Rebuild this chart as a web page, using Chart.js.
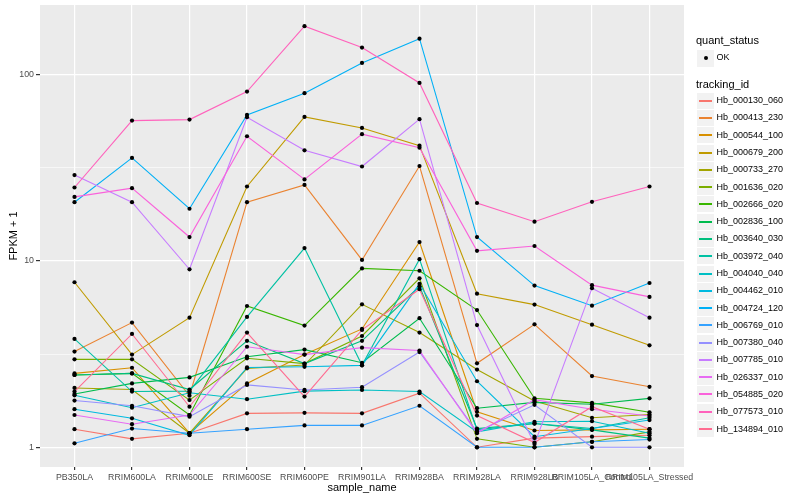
<!DOCTYPE html>
<html>
<head>
<meta charset="utf-8">
<script src="https://cdn.jsdelivr.net/npm/chart.js@4.4.1/dist/chart.umd.min.js"></script>
<style>
  body { margin: 0; background: #fff; font-family: "Liberation Sans", Arial, sans-serif; }
  #wrap { position: relative; width: 800px; height: 500px; }
  #legend { position: absolute; left: 0; top: 0; width: 800px; height: 500px; pointer-events: none; }
  .lg-title { position: absolute; font-size: 11px; color: #000; line-height: 13px; }
  .lg-key { position: absolute; width: 17px; height: 16px; background: #F2F2F2; }
  .lg-line { position: absolute; left: 2px; width: 13px; height: 2px; top: 7px; }
  .lg-dot { position: absolute; left: 6.5px; top: 6.5px; width: 4px; height: 4px; border-radius: 50%; background: #000; }
  .lg-text { position: absolute; font-size: 9px; color: #000; line-height: 11px; white-space: nowrap; }
</style>
</head>
<body>
<div id="wrap">
  <canvas id="chart" width="800" height="500"></canvas>
  <div id="legend"></div>
</div>
<script>
const categories = ["PB350LA", "RRIM600LA", "RRIM600LE", "RRIM600SE", "RRIM600PE", "RRIM901LA",
  "RRIM928BA", "RRIM928LA", "RRIM928LB", "RRIM105LA_Control", "RRIM105LA_Stressed"];

const trackingIds = ["Hb_000130_060", "Hb_000413_230", "Hb_000544_100", "Hb_000679_200", "Hb_000733_270",
  "Hb_001636_020", "Hb_002666_020", "Hb_002836_100", "Hb_003640_030", "Hb_003972_040",
  "Hb_004040_040", "Hb_004462_010", "Hb_004724_120", "Hb_006769_010", "Hb_007380_040",
  "Hb_007785_010", "Hb_026337_010", "Hb_054885_020", "Hb_077573_010", "Hb_134894_010"];

const seriesColors = ["#F8766D", "#EA8331", "#D89000", "#C09B00", "#A3A500", "#7CAE00", "#39B600",
  "#00BB4E", "#00BF7D", "#00C1A3", "#00BFC4", "#00BAE0", "#00B0F6", "#35A2FF", "#9590FF",
  "#C77CFF", "#E76BF3", "#FA62DB", "#FF62BC", "#FF6C91"];

// FPKM + 1, one value per sample
const hb000130 = [1.25, 1.11, 1.19, 1.52, 1.53, 1.52, 1.95, 1.00, 1.12, 1.14, 1.16];
const hb000413 = [3.26, 4.66, 1.89, 20.6, 25.5, 10.1, 32.2, 2.82, 4.56, 2.41, 2.11];
const hb000544 = [2.49, 2.67, 1.19, 2.20, 3.14, 4.31, 12.6, 1.55, 1.23, 1.24, 1.25];
const hb000679 = [7.67, 3.14, 4.95, 25.0, 59.0, 51.5, 41.4, 6.66, 5.82, 4.54, 3.52];
const hb000733 = [2.08, 2.04, 1.19, 2.65, 2.76, 5.84, 4.12, 2.61, 1.77, 1.44, 1.50];
const hb001636 = [2.96, 2.96, 1.79, 3.00, 2.81, 3.95, 8.05, 1.11, 1.00, 1.07, 1.21];
const hb002666 = [2.44, 2.49, 1.49, 5.72, 4.49, 9.10, 8.84, 5.44, 1.83, 1.73, 1.54];
const hb002836 = [1.93, 2.20, 2.37, 3.06, 3.34, 2.84, 4.92, 1.62, 1.74, 1.70, 1.83];
const hb003640 = [2.44, 2.49, 2.04, 3.72, 2.81, 3.72, 7.30, 1.26, 1.34, 1.24, 1.12];
const hb003972 = [3.81, 1.99, 2.00, 5.00, 11.7, 2.75, 10.2, 1.24, 1.34, 1.26, 1.44];
const hb004040 = [1.90, 1.63, 1.96, 1.81, 2.00, 2.03, 1.99, 1.21, 1.37, 1.38, 1.19];
const hb004462 = [1.60, 1.43, 1.16, 2.68, 2.70, 2.75, 7.52, 2.26, 1.14, 1.26, 1.40];
const hb004724 = [20.6, 35.6, 19.0, 60.5, 79.1, 115, 155, 13.4, 7.36, 5.74, 7.60];
const hb006769 = [1.05, 1.26, 1.19, 1.25, 1.31, 1.31, 1.67, 1.00, 1.00, 1.07, 1.10];
const hb007380 = [1.78, 1.67, 1.46, 2.16, 2.03, 2.10, 3.24, 1.21, 1.69, 1.00, 1.00];
const hb007785 = [28.8, 20.6, 9.00, 58.8, 39.1, 32.0, 57.4, 4.52, 1.04, 7.13, 4.95];
const hb026337 = [1.49, 1.33, 1.49, 3.46, 3.14, 3.42, 3.30, 1.19, 1.80, 1.60, 1.47];
const hb054885 = [22.0, 24.5, 13.4, 46.5, 27.3, 47.7, 40.4, 11.3, 12.0, 7.40, 6.40];
const hb077573 = [24.7, 56.4, 57.1, 80.7, 181, 139, 89.8, 20.4, 16.2, 20.7, 25.0];
const hb134894 = [1.99, 4.05, 1.65, 4.12, 1.87, 4.26, 7.04, 1.48, 1.06, 1.65, 1.25];

const seriesValues = [hb000130, hb000413, hb000544, hb000679, hb000733, hb001636, hb002666,
  hb002836, hb003640, hb003972, hb004040, hb004462, hb004724, hb006769, hb007380,
  hb007785, hb026337, hb054885, hb077573, hb134894];

const majorTicks = [1, 10, 100];
const yTicks = [1, Math.sqrt(10), 10, Math.sqrt(1000), 100];

const panelBg = {
  id: "panelBg",
  beforeDraw(chart) {
    const a = chart.chartArea;
    const ctx = chart.ctx;
    ctx.save();
    ctx.fillStyle = "#EBEBEB";
    ctx.fillRect(a.left, a.top, a.right - a.left, a.bottom - a.top);
    ctx.restore();
  }
};

const lineSets = seriesValues.map((vals, i) => ({
  label: trackingIds[i],
  data: vals.map((v, j) => ({ x: j, y: v })),
  borderColor: seriesColors[i],
  backgroundColor: seriesColors[i],
  borderWidth: 1.1,
  pointRadius: 0,
  showLine: true,
  order: 100 - i
}));

const pointSet = {
  label: "OK",
  data: seriesValues.flatMap(vals => vals.map((v, j) => ({ x: j, y: v }))),
  showLine: false,
  pointRadius: 2.1,
  pointBackgroundColor: "#000",
  pointBorderWidth: 0,
  order: 0
};

Chart.defaults.font.family = '"Liberation Sans", Arial, sans-serif';

new Chart(document.getElementById("chart"), {
  type: "scatter",
  data: { datasets: [pointSet, ...lineSets] },
  options: {
    responsive: false,
    animation: false,
    layout: { padding: { top: 5, right: 116, left: 0, bottom: 0 } },
    plugins: { legend: { display: false }, tooltip: { enabled: false } },
    scales: {
      x: {
        type: "linear",
        min: -0.6,
        max: 10.6,
        afterBuildTicks: s => { s.ticks = categories.map((c, i) => ({ value: i })); },
        afterFit: s => { s.height = 33; },
        border: { display: false },
        grid: { color: "#FFFFFF", lineWidth: 1.2, tickColor: "#333333", tickLength: 3 },
        ticks: {
          autoSkip: false, maxRotation: 0, minRotation: 0, padding: 2,
          color: "#4D4D4D", font: { size: 8.8 },
          callback: v => categories[v]
        },
        title: { display: true, text: "sample_name", color: "#000", font: { size: 11 }, padding: { top: 0, bottom: 5 } }
      },
      y: {
        type: "logarithmic",
        min: 0.784,
        max: 235,
        afterBuildTicks: s => { s.ticks = yTicks.map(v => ({ value: v })); },
        afterFit: s => { s.width = 40; s.paddingTop = 0; s.paddingBottom = 0; },
        border: { display: false },
        grid: {
          color: "#FFFFFF",
          lineWidth: c => majorTicks.includes(c.tick && c.tick.value) ? 1.2 : 0.6,
          tickColor: c => majorTicks.includes(c.tick && c.tick.value) ? "#333333" : "rgba(0,0,0,0)",
          tickLength: 4
        },
        ticks: {
          autoSkip: false, padding: 2, color: "#4D4D4D", font: { size: 8.8 },
          callback: v => majorTicks.includes(v) ? String(v) : ""
        },
        title: { display: true, text: "FPKM + 1", color: "#000", font: { size: 11 }, padding: { top: 7, bottom: 0 } }
      }
    }
  },
  plugins: [panelBg]
});

// ggplot style legends on the right
const legend = document.getElementById("legend");
function add(cls, left, top, text, parent) {
  const el = document.createElement("div");
  el.className = cls;
  el.style.left = left + "px";
  el.style.top = top + "px";
  if (text) el.textContent = text;
  (parent || legend).appendChild(el);
  return el;
}

add("lg-title", 696, 34, "quant_status");
const okKey = add("lg-key", 697, 49.5);
okKey.style.height = "17px";
add("lg-dot", 6.5, 6.5, "", okKey);
add("lg-text", 716.5, 51.5, "OK");

add("lg-title", 696, 77.5, "tracking_id");
trackingIds.forEach((id, i) => {
  const cy = 100.7 + 17.28 * i;
  const key = add("lg-key", 697, Math.round(cy - 8));
  const ln = add("lg-line", 2, 7, "", key);
  ln.style.background = seriesColors[i];
  add("lg-text", 716.5, cy - 5.5, id);
});
</script>
</body>
</html>
